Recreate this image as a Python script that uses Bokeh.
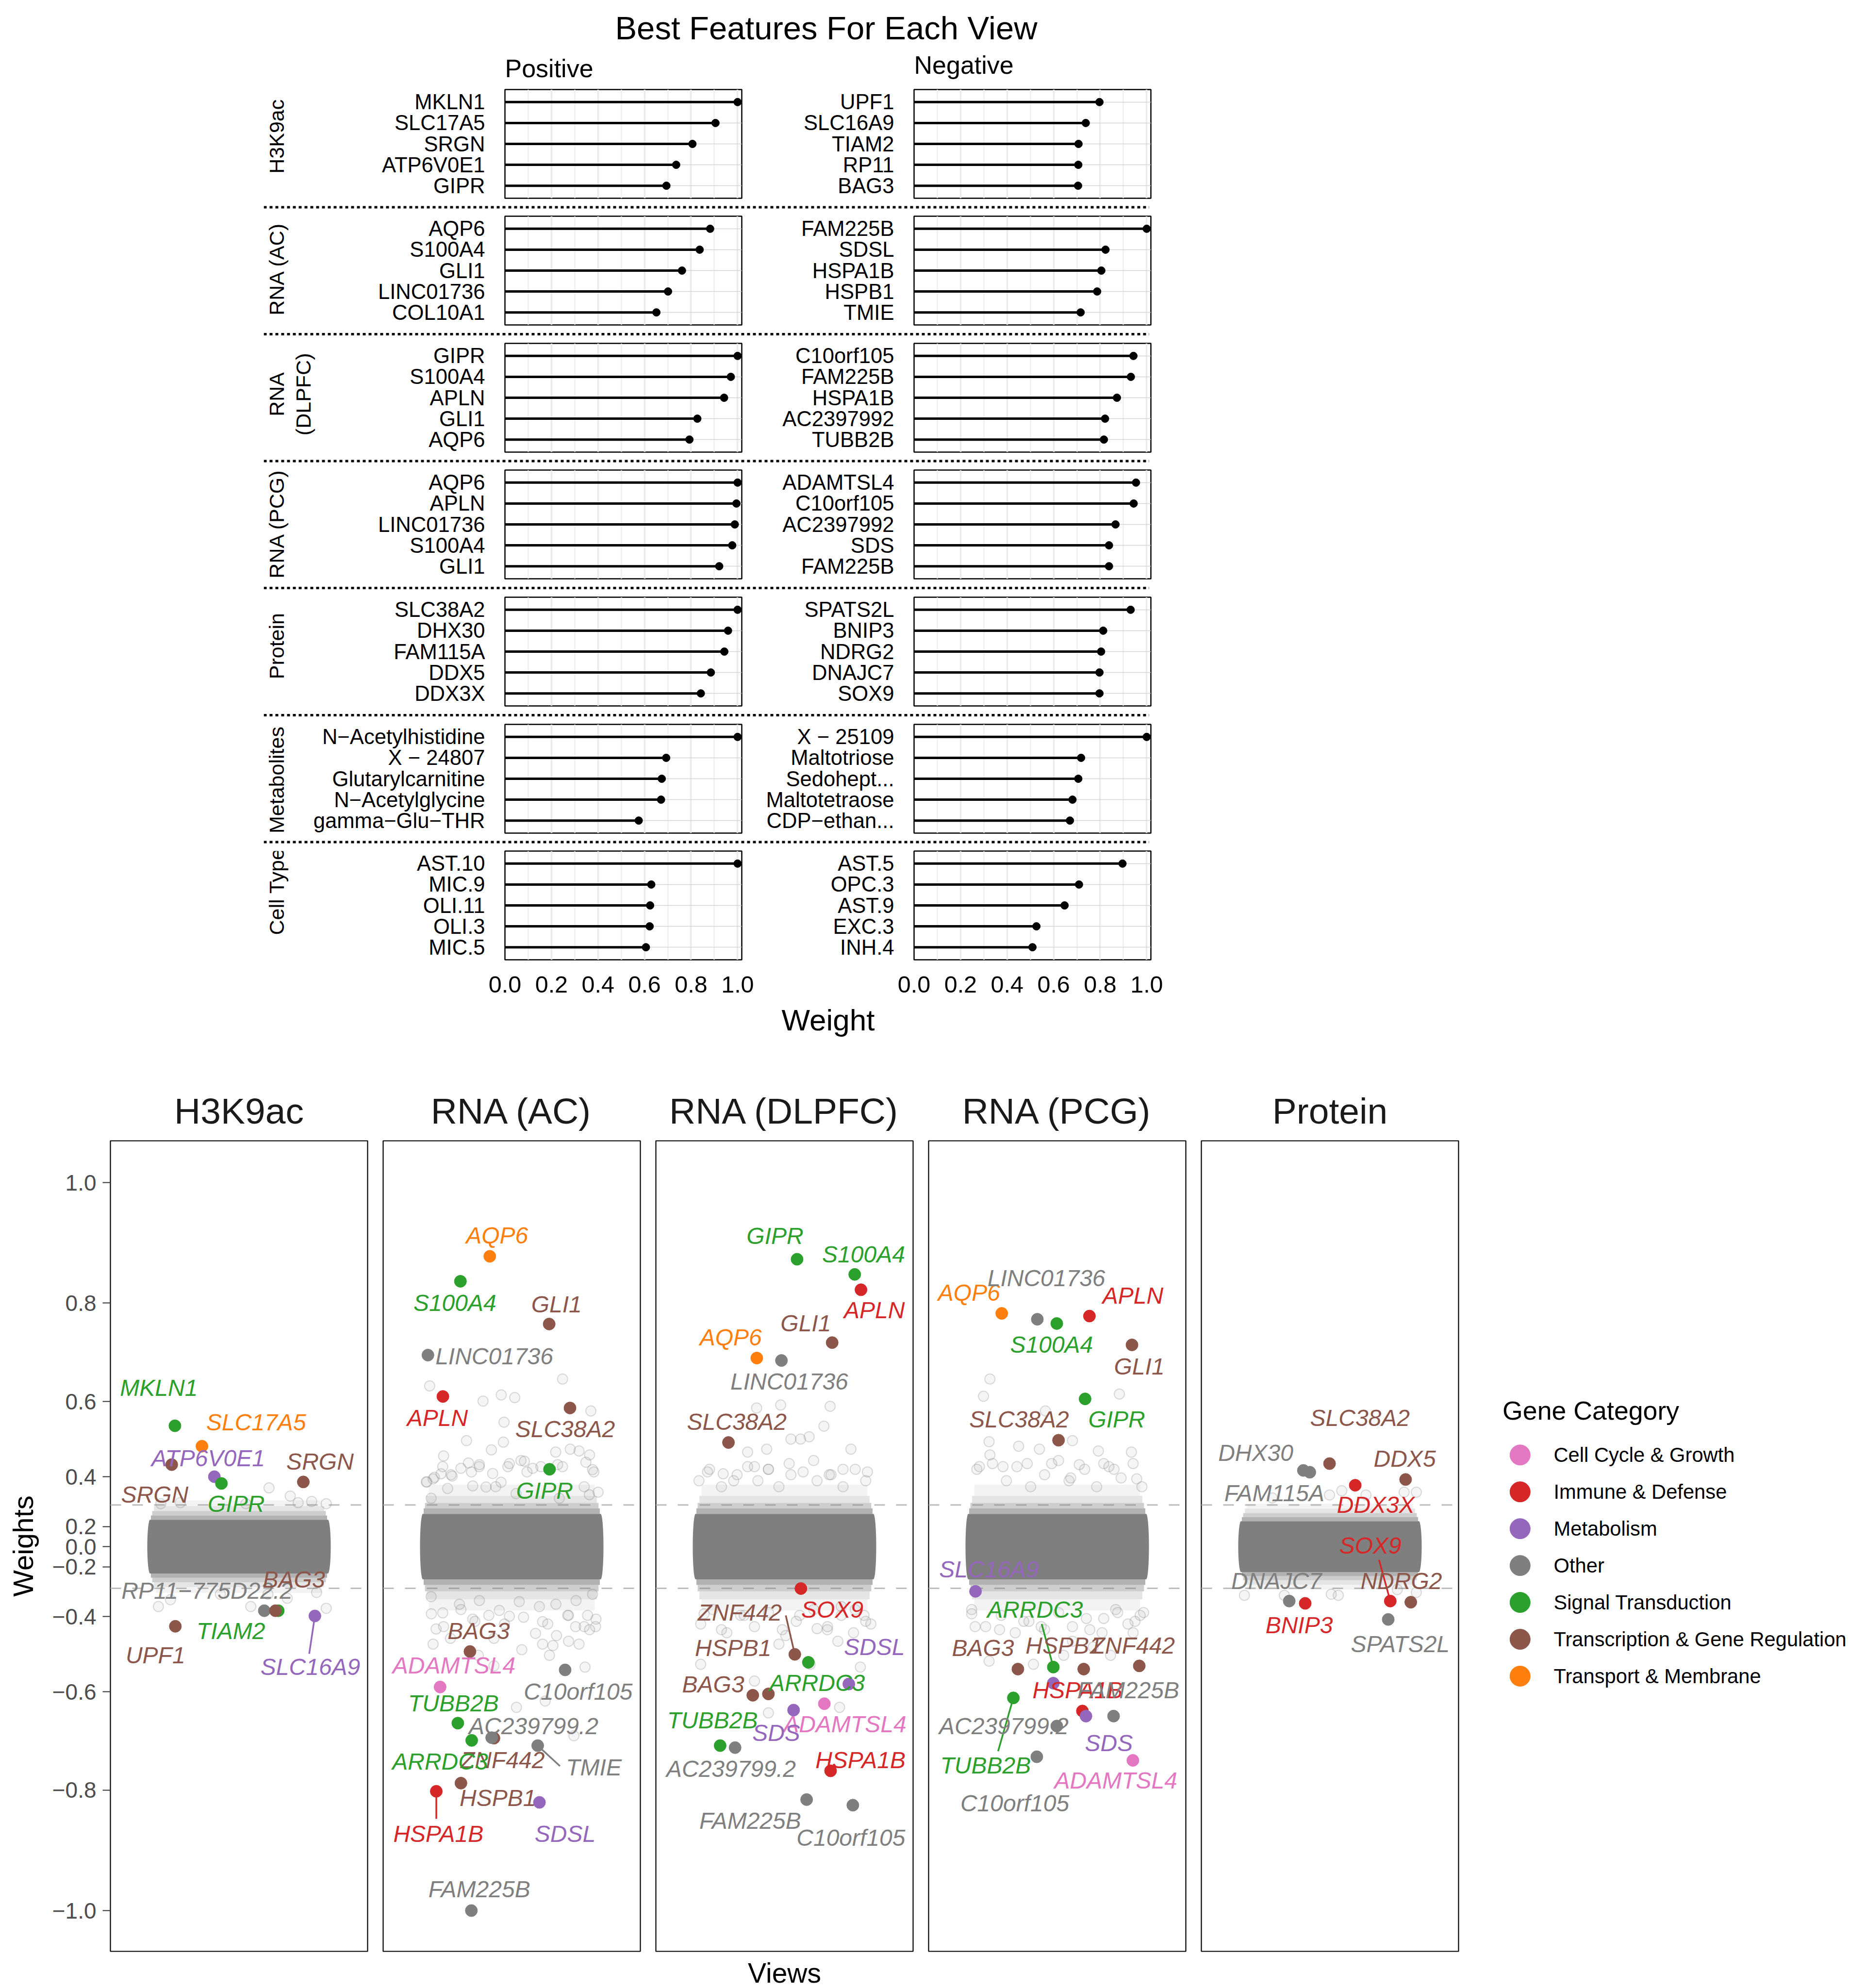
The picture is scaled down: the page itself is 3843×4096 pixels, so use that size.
import numpy as np
from bokeh.plotting import figure
from bokeh.models import Range1d, FixedTicker, Span, ColumnDataSource, Spacer, NumeralTickFormatter
from bokeh.layouts import row, column
from bokeh.embed import file_html
from bokeh.resources import INLINE
from bokeh.core.properties import value

# ------------------------------------------------------------------ data: top lollipops
VIEWS = ["H3K9ac", "RNA (AC)", "RNA (DLPFC)", "RNA (PCG)", "Protein", "Metabolites", "Cell Type"]

H3K9AC_POS = ["MKLN1", "SLC17A5", "SRGN", "ATP6V0E1", "GIPR"]
H3K9AC_POS_W = [1.0, 0.905, 0.806, 0.736, 0.694]
H3K9AC_NEG = ["UPF1", "SLC16A9", "TIAM2", "RP11", "BAG3"]
H3K9AC_NEG_W = [0.797, 0.738, 0.707, 0.706, 0.705]

RNA_AC_POS = ["AQP6", "S100A4", "GLI1", "LINC01736", "COL10A1"]
RNA_AC_POS_W = [0.882, 0.837, 0.761, 0.701, 0.651]
RNA_AC_NEG = ["FAM225B", "SDSL", "HSPA1B", "HSPB1", "TMIE"]
RNA_AC_NEG_W = [1.0, 0.823, 0.805, 0.787, 0.716]

DLPFC_POS = ["GIPR", "S100A4", "APLN", "GLI1", "AQP6"]
DLPFC_POS_W = [1.0, 0.971, 0.942, 0.827, 0.793]
DLPFC_NEG = ["C10orf105", "FAM225B", "HSPA1B", "AC2397992", "TUBB2B"]
DLPFC_NEG_W = [0.943, 0.932, 0.872, 0.821, 0.816]

PCG_POS = ["AQP6", "APLN", "LINC01736", "S100A4", "GLI1"]
PCG_POS_W = [1.0, 0.995, 0.988, 0.977, 0.921]
PCG_NEG = ["ADAMTSL4", "C10orf105", "AC2397992", "SDS", "FAM225B"]
PCG_NEG_W = [0.954, 0.944, 0.866, 0.838, 0.838]

PROTEIN_POS = ["SLC38A2", "DHX30", "FAM115A", "DDX5", "DDX3X"]
PROTEIN_POS_W = [1.0, 0.959, 0.943, 0.885, 0.842]
PROTEIN_NEG = ["SPATS2L", "BNIP3", "NDRG2", "DNAJC7", "SOX9"]
PROTEIN_NEG_W = [0.931, 0.813, 0.804, 0.797, 0.797]

MET_POS = ["N\u2212Acetylhistidine", "X \u2212 24807", "Glutarylcarnitine", "N\u2212Acetylglycine", "gamma\u2212Glu\u2212THR"]
MET_POS_W = [1.0, 0.693, 0.674, 0.671, 0.575]
MET_NEG = ["X \u2212 25109", "Maltotriose", "Sedohept...", "Maltotetraose", "CDP\u2212ethan..."]
MET_NEG_W = [1.0, 0.718, 0.706, 0.681, 0.670]

CELL_POS = ["AST.10", "MIC.9", "OLI.11", "OLI.3", "MIC.5"]
CELL_POS_W = [1.0, 0.629, 0.624, 0.622, 0.606]
CELL_NEG = ["AST.5", "OPC.3", "AST.9", "EXC.3", "INH.4"]
CELL_NEG_W = [0.896, 0.709, 0.647, 0.526, 0.509]

# ------------------------------------------------------------------ data: facet scatter
CATEGORIES = ["Cell Cycle & Growth", "Immune & Defense", "Metabolism", "Other",
              "Signal Transduction", "Transcription & Gene Regulation", "Transport & Membrane"]
CAT_COLORS = ["#E377C2", "#D62728", "#9467BD", "#7F7F7F", "#2CA02C", "#8C564B", "#FF7F0E"]
CAT_CODES = ["CC", "IM", "ME", "OT", "ST", "TR", "TM"]
FACET_VIEWS = ["H3K9ac", "RNA (AC)", "RNA (DLPFC)", "RNA (PCG)", "Protein"]

H3K9AC_GENES = ["MKLN1", "SLC17A5", "ATP6V0E1", "SRGN", "GIPR", "SRGN", "RP11\u2212775D22.2", "TIAM2", "BAG3", "UPF1", "SLC16A9"]
H3K9AC_CATS = ["ST", "TM", "ME", "TR", "ST", "TR", "OT", "ST", "TR", "TR", "ME"]
H3K9AC_X = [0.701, 0.827, 0.885, 0.686, 0.918, 1.300, 1.118, 1.183, 1.170, 0.703, 1.354]
H3K9AC_W = [0.542, 0.489, 0.400, 0.437, 0.378, 0.383, -0.381, -0.381, -0.381, -0.430, -0.398]
H3K9AC_BG_X = [1.140, 1.239, 1.339, 1.032, 0.635, 0.726, 1.276, 1.407, 0.624, 0.680, 1.055, 1.135, 1.407, 1.362, 1.225, 0.913]
H3K9AC_BG_W = [0.363, 0.334, 0.314, 0.305, 0.305, 0.309, 0.309, 0.305, -0.367, -0.343, -0.367, -0.323, -0.373, -0.316, -0.338, -0.323]

RNA_AC_GENES = ["AQP6", "S100A4", "GLI1", "LINC01736", "APLN", "SLC38A2", "GIPR", "BAG3", "ADAMTSL4", "C10orf105",
                "TUBB2B", "ZNF442", "AC239799.2", "ARRDC3", "HSPB1", "TMIE", "HSPA1B", "SDSL", "FAM225B"]
RNA_AC_CATS = ["TM", "ST", "TR", "OT", "IM", "TR", "ST", "TR", "CC", "OT", "ST", "TR", "OT", "ST", "TR", "OT", "IM", "ME", "OT"]
RNA_AC_X = [0.8975, 0.7606, 1.1746, 0.609, 0.6787, 1.2718, 1.1762, 0.805, 0.6658, 1.249, 0.7484, 0.917, 0.9064,
            0.8132, 0.763, 1.1211, 0.648, 1.1292, 0.8116]
RNA_AC_W = [0.882, 0.839, 0.761, 0.700, 0.6115, 0.585, 0.423, -0.501, -0.589, -0.548, -0.669, -0.700, -0.699,
            -0.7045, -0.787, -0.715, -0.802, -0.822, -1.0]
RNA_AC_BG_X = [0.617, 0.866, 0.951, 1.014, 1.237, 1.369, 0.964, 0.789, 0.961, 0.905, 0.848, 0.682, 1.043, 1.071, 1.205,
               1.273, 1.314, 1.363, 1.383, 0.633, 0.601, 0.722, 0.812, 0.925, 0.982, 1.136, 1.338, 1.237, 1.403, 0.670,
               0.625, 0.682, 0.763, 0.828, 0.893, 0.966, 1.055, 1.111, 1.168, 1.209, 1.265, 1.298, 1.354, 1.391, 0.633,
               0.714, 0.917, 1.047, 1.144, 1.192, 1.265, 1.314, 1.176, 1.342, 1.022, 1.156, 1.290, 0.844, 0.917, 1.363,
               0.604, 0.639, 0.678, 0.717, 0.763, 0.798, 0.849, 0.911, 0.950, 0.989, 1.059, 1.098, 1.214, 1.346, 1.377,
               1.362, 0.624, 0.701, 0.818, 0.880, 1.020, 1.222,
               0.624, 0.678, 0.756, 0.849, 0.942, 1.035, 1.129, 1.206, 1.300, 1.377, 0.647, 0.818, 0.989, 1.144, 1.261,
               1.393, 1.338]
RNA_AC_BG_W = [0.635, 0.601, 0.615, 0.609, 0.650, 0.578, 0.551, 0.504, 0.500, 0.479, 0.431, 0.462, 0.449, 0.415, 0.473,
               0.481, 0.476, 0.465, 0.415, 0.393, 0.383, 0.402, 0.415, 0.367, 0.431, 0.431, 0.367, 0.431, 0.348, 0.409,
               -0.391, -0.431, -0.377, -0.415, -0.396, -0.423, -0.402, -0.451, -0.423, -0.457, -0.396, -0.431, -0.396,
               -0.431, -0.481, -0.465, -0.465, -0.496, -0.481, -0.485, -0.473, -0.481, -0.511, -0.541, -0.635, -0.621,
               -0.695, -0.511, -0.538, -0.440,
               0.383, 0.398, 0.431, 0.406, 0.426, 0.442, 0.437, 0.410, 0.382, 0.440, 0.447, 0.426, 0.437, 0.444, 0.422,
               0.339, 0.326, 0.361, 0.370, 0.366, 0.343, 0.326,
               -0.332, -0.388, -0.359, -0.346, -0.380, -0.350, -0.367, -0.359, -0.346, -0.323, -0.438, -0.408, -0.399,
               -0.416, -0.396, -0.408, -0.431]

DLPFC_GENES = ["GIPR", "S100A4", "APLN", "GLI1", "AQP6", "LINC01736", "SLC38A2", "SOX9", "ZNF442", "BAG3", "HSPB1",
               "ARRDC3", "SDSL", "ADAMTSL4", "SDS", "TUBB2B", "AC239799.2", "HSPA1B", "FAM225B", "C10orf105"]
DLPFC_CATS = ["ST", "ST", "IM", "TR", "TM", "OT", "TR", "IM", "TR", "TR", "TR", "ST", "ME", "CC", "ME", "ST", "OT", "IM", "OT", "OT"]
DLPFC_X = [1.0587, 1.3277, 1.3569, 1.2224, 0.8708, 0.9858, 0.7387, 1.0766, 1.0482, 0.8521, 0.925, 1.1114, 1.3002,
           1.186, 1.0425, 0.6998, 0.7695, 1.2151, 1.1033, 1.3189]
DLPFC_W = [0.877, 0.851, 0.824, 0.725, 0.694, 0.689, 0.499, -0.301, -0.5085, -0.608, -0.605, -0.529, -0.582, -0.627,
           -0.641, -0.715, -0.719, -0.764, -0.817, -0.827]
DLPFC_BG_X = [0.870, 0.982, 1.213, 1.184, 1.030, 1.075, 1.115, 1.310, 0.828, 0.917, 1.273, 0.650, 0.714, 0.860, 1.022,
              1.136, 1.387, 0.763, 1.209, 0.925, 0.609, 0.860, 0.925, 0.974, 1.006, 1.200, 1.249, 1.371, 1.330, 1.265,
              1.152, 0.706, 0.812, 1.071, 1.403, 0.625, 1.120, 1.354, 1.257,
              0.601, 0.641, 0.706, 0.779, 0.828, 0.876, 0.925, 0.974, 1.030, 1.087, 1.152, 1.217, 1.273, 1.330, 1.379,
              0.609, 0.666, 0.731, 0.795, 0.860, 0.925, 0.990, 1.055, 1.136, 1.201, 1.265, 1.322, 1.379]
DLPFC_BG_W = [0.585, 0.592, 0.589, 0.541, 0.508, 0.508, 0.514, 0.481, 0.473, 0.481, 0.423, 0.423, 0.409, 0.431, 0.440,
              0.449, 0.415, 0.387, 0.406, 0.423, -0.534, -0.575, -0.647, -0.481, -0.457, -0.440, -0.473, -0.396, -0.377,
              -0.367, -0.437, -0.440, -0.396, -0.396, -0.423, -0.391, -0.534, -0.541, -0.635,
              0.387, 0.415, 0.367, 0.406, 0.431, 0.387, 0.423, 0.367, 0.406, 0.415, 0.387, 0.406, 0.367, 0.423, 0.387,
              -0.423, -0.377, -0.449, -0.396, -0.431, -0.387, -0.440, -0.415, -0.377, -0.431, -0.396, -0.449, -0.415]

PCG_GENES = ["AQP6", "LINC01736", "S100A4", "APLN", "GLI1", "GIPR", "SLC38A2", "SLC16A9", "", "ARRDC3", "BAG3",
             "HSPB1", "ZNF442", "HSPA1B", "FAM225B", "SDS", "TUBB2B", "AC239799.2", "C10orf105", "ADAMTSL4"]
PCG_CATS = ["TM", "OT", "ST", "IM", "TR", "ST", "TR", "ME", "ME", "ST", "TR", "TR", "TR", "IM", "OT", "ME", "ST", "OT", "OT", "CC"]
PCG_X = [0.7411, 0.9072, 0.998, 1.1503, 1.3488, 1.13, 1.0061, 0.6188, 0.9818, 0.9818, 0.8165, 1.1236, 1.3828, 1.1175,
         1.2629, 1.1341, 0.7954, 0.998, 0.9048, 1.3529]
PCG_W = [0.781, 0.770, 0.762, 0.776, 0.7205, 0.606, 0.505, -0.312, -0.580, -0.541, -0.546, -0.546, -0.538, -0.643,
         -0.654, -0.654, -0.614, -0.675, -0.737, -0.744]
PCG_BG_X = [0.686, 0.656, 1.290, 0.945, 0.682, 0.820, 0.917, 1.071, 1.192, 0.686, 1.346, 1.371, 0.637, 1.103, 1.265,
            0.747, 0.860, 0.974, 1.217, 1.055, 0.601, 0.617, 0.731, 0.844, 0.925, 1.071, 1.152, 1.217, 1.282, 1.363,
            1.403, 0.682, 0.889, 1.030, 1.168, 1.354, 1.249,
            0.625, 0.698, 0.763, 0.812, 0.876, 0.941, 1.006, 1.063, 1.128, 1.184, 1.241, 1.298, 1.354, 1.395,
            0.601, 0.666, 0.739, 0.804, 0.868, 0.941, 1.006, 1.071, 1.136, 1.209, 1.273, 1.330, 1.387]
PCG_BG_W = [0.650, 0.612, 0.617, 0.578, 0.501, 0.489, 0.481, 0.504, 0.476, 0.465, 0.473, 0.393, 0.431, 0.437, 0.423,
            0.431, 0.440, 0.440, 0.440, 0.387, -0.391, -0.431, -0.440, -0.415, -0.431, -0.473, -0.440, -0.406, -0.387,
            -0.415, -0.387, -0.526, -0.534, -0.511, -0.489, -0.449, -0.511,
            0.423, 0.440, 0.387, 0.431, 0.367, 0.406, 0.449, 0.396, 0.423, 0.367, 0.431, 0.396, 0.440, 0.367,
            -0.377, -0.431, -0.396, -0.449, -0.415, -0.440, -0.387, -0.431, -0.406, -0.449, -0.377, -0.423, -0.396]

PROTEIN_GENES = ["SLC38A2", "DHX30", "FAM115A", "DDX5", "DDX3X", "SOX9", "NDRG2", "DNAJC7", "BNIP3", "SPATS2L"]
PROTEIN_CATS = ["TR", "OT", "OT", "TR", "IM", "IM", "TR", "OT", "IM", "OT"]
PROTEIN_X = [0.998, 0.876, 0.906, 1.3529, 1.1179, 1.2815, 1.3772, 0.81, 0.8845, 1.2718]
PROTEIN_W = [0.440, 0.4195, 0.414, 0.391, 0.372, -0.348, -0.352, -0.348, -0.356, -0.409]
PROTEIN_BG_X = [1.055, 1.168, 1.403, 0.998, 0.731, 1.346, 0.601, 0.787, 1.006, 1.039, 1.314, 1.403]
PROTEIN_BG_W = [0.353, 0.338, 0.348, 0.338, 0.327, 0.348, -0.327, -0.327, -0.323, -0.327, -0.305, -0.316]

# dense cloud of unlabeled features, summarised by weight levels:
# core half-height, then density levels above (+) and below (-) the core
H3K9AC_CORE = 0.235
H3K9AC_UP = [0.255, 0.275, 0.295, 0.318]
H3K9AC_DN = [0.255, 0.275, 0.295, 0.318]
RNA_AC_CORE = 0.262
RNA_AC_UP = [0.286, 0.308, 0.335, 0.374]
RNA_AC_DN = [0.286, 0.312, 0.342, 0.380]
DLPFC_CORE = 0.262
DLPFC_UP = [0.286, 0.308, 0.335, 0.374]
DLPFC_DN = [0.286, 0.312, 0.342, 0.380]
PCG_CORE = 0.262
PCG_UP = [0.286, 0.308, 0.335, 0.374]
PCG_DN = [0.286, 0.312, 0.342, 0.380]
PROTEIN_CORE = 0.228
PROTEIN_UP = [0.248, 0.266, 0.285, 0.305]
PROTEIN_DN = [0.248, 0.266, 0.285, 0.305]

THRESHOLD = 0.3
YTICK_VALUES = [1.0, 0.8, 0.6, 0.4, 0.2, 0.0, -0.2, -0.4, -0.6, -0.8, -1.0]
YTICK_LABELS = ["1.0", "0.8", "0.6", "0.4", "0.2", "0.0", "\u22120.2", "\u22120.4", "\u22120.6", "\u22120.8", "\u22121.0"]

# ------------------------------------------------------------------ layout (label placement, not data)
H3K9AC_LBL = [(0.626, 0.436), (1.080, 0.342), (0.856, 0.2425), (0.607, 0.143), (0.987, 0.118), (1.378, 0.233),
              (0.851, -0.121), (0.962, -0.2315), (1.256, -0.090), (0.610, -0.298), (1.333, -0.331)]
H3K9AC_SEG = [(10, 1.3275, -0.2945)]
RNA_AC_LBL = [(0.9315, 0.855), (0.7346, 0.669), (1.2087, 0.666), (0.9186, 0.523), (0.6536, 0.354), (1.249, 0.323),
              (1.1535, 0.154), (0.8456, -0.2315), (0.7306, -0.326), (1.31, -0.398), (0.728, -0.430), (0.9575, -0.587),
              (1.1017, -0.493), (0.6658, -0.5906), (0.9348, -0.690), (1.3828, -0.606), (0.6577, -0.789),
              (1.249, -0.789), (0.8489, -0.9417)]
RNA_AC_SEG = [(15, 1.2249, -0.603), (16, 0.648, -0.748)]
DLPFC_LBL = [(0.9558, 0.8535), (1.369, 0.803), (1.4193, 0.649), (1.0993, 0.614), (0.7492, 0.575), (1.0223, 0.4535),
             (0.7776, 0.343), (1.2232, -0.173), (0.7914, -0.181), (0.6674, -0.378), (0.7606, -0.279), (1.1519, -0.375),
             (1.4193, -0.276), (1.2816, -0.488), (0.9615, -0.512), (0.6641, -0.477), (0.7508, -0.611),
             (1.3545, -0.586), (0.84, -0.753), (1.3099, -0.80)]
DLPFC_SEG = [(8, 1.006, -0.189)]
PCG_LBL = [(0.5888, 0.6976), (0.9494, 0.737), (0.9737, 0.5543), (1.3529, 0.6898), (1.3828, 0.4945), (1.2775, 0.3496),
           (0.8221, 0.3496), (0.682, -0.063), None, (0.8967, -0.173), (0.6536, -0.279), (1.0304, -0.272),
           (1.3529, -0.272), (1.0952, -0.395), (1.3318, -0.395), (1.241, -0.540), (0.6658, -0.6016),
           (0.7508, -0.493), (0.8019, -0.7055), (1.2735, -0.6425)]
PCG_SEG = [(9, 0.9275, -0.2126), (16, 0.7241, -0.5622)]
PROTEIN_LBL = [(1.1398, 0.354), (0.6536, 0.257), (0.7403, 0.1465), (1.3488, 0.241), (1.2135, 0.115), (1.1884, 0.003),
               (1.3326, -0.0945), (0.7508, -0.0945), (0.8562, -0.2157), (1.3277, -0.2677)]
PROTEIN_SEG = [(5, 1.2289, -0.0362)]

FONT = "Liberation Sans"
TOTAL_W = 3843
GRAY = "#7F7F7F"
COLOR_OF = dict(zip(CAT_CODES, CAT_COLORS))
FRINGE_ALPHA = [0.6, 0.38, 0.2, 0.09]
FRINGE_XPAD = [0.004, 0.01, 0.018, 0.028]


def T(w):
    """axis transform of the weights panel (signed power scale)"""
    return float(np.sign(w) * abs(w) ** 1.8)


def blank(width, height):
    p = figure(width=width, height=height, toolbar_location=None, output_backend="svg",
               x_range=Range1d(0, width), y_range=Range1d(height, 0),
               x_axis_location=None, y_axis_location=None,
               min_border_left=0, min_border_right=0, min_border_top=0, min_border_bottom=0)
    p.outline_line_color = None
    p.grid.visible = False
    return p


def add_text(p, x, y, txt, size, align="left", angle=0.0, color="#000000", style="normal"):
    p.text(x=[x], y=[y], text=[txt], angle=angle, text_font=value(FONT), text_font_size=f"{size}px",
           text_align=align, text_baseline="middle", text_color=color, text_font_style=style)


def lollipop(names, weights, left, right, height, bottom, show_x):
    n = len(names)
    ys = [float(n - k) for k in range(n)]
    p = figure(width=left + 488 + right, height=height, toolbar_location=None, output_backend="svg",
               x_range=Range1d(0, 1.018), y_range=Range1d(0.4, n + 0.6),
               x_axis_location="below" if show_x else None,
               min_border_left=left, min_border_right=right, min_border_top=10, min_border_bottom=bottom)
    p.outline_line_color = "black"
    p.outline_line_width = 2.5
    p.background_fill_color = "white"
    p.xgrid.ticker = FixedTicker(ticks=[0.0, 0.2, 0.4, 0.6, 0.8, 1.0], minor_ticks=[0.1, 0.3, 0.5, 0.7, 0.9])
    p.xgrid.grid_line_color = "#EBEBEB"
    p.xgrid.grid_line_width = 3.5
    p.xgrid.minor_grid_line_color = "#EFEFEF"
    p.xgrid.minor_grid_line_width = 2.5
    p.ygrid.ticker = FixedTicker(ticks=ys)
    p.ygrid.grid_line_color = "#D4D4D4"
    p.ygrid.grid_line_width = 1.5
    src = ColumnDataSource(dict(y=ys, w=weights, zero=[0.0] * n))
    p.segment(x0="zero", y0="y", x1="w", y1="y", source=src, line_color="black", line_width=5)
    p.scatter(x="w", y="y", source=src, size=16, color="black")
    ya = p.yaxis[0]
    ya.ticker = FixedTicker(ticks=ys)
    ya.major_label_overrides = dict(zip(ys, names))
    ya.axis_line_color = None
    ya.major_tick_line_color = None
    ya.minor_tick_line_color = None
    ya.major_label_standoff = 35
    ya.major_label_text_font = FONT
    ya.major_label_text_font_size = "43.6px"
    ya.major_label_text_color = "black"
    if show_x:
        xa = p.xaxis[0]
        xa.ticker = FixedTicker(ticks=[0.0, 0.2, 0.4, 0.6, 0.8, 1.0])
        xa.formatter = NumeralTickFormatter(format="0.0")
        xa.axis_line_color = None
        xa.major_tick_line_color = None
        xa.minor_tick_line_color = None
        xa.major_label_standoff = 28
        xa.major_label_text_font = FONT
        xa.major_label_text_font_size = "48.5px"
        xa.major_label_text_color = "black"
    return p


def facet(i, genes, cats, xs, ws, lbls, segs, bgx, bgw, core, up, dn):
    left = 227 if i == 0 else 30
    p = figure(width=left + 532, height=1678, toolbar_location=None, output_backend="svg",
               x_range=Range1d(0.4, 1.6), y_range=Range1d(-1.112, 1.115),
               x_axis_location=None, y_axis_location="left" if i == 0 else None,
               min_border_left=left, min_border_right=2, min_border_top=4, min_border_bottom=4)
    p.outline_line_color = "black"
    p.outline_line_width = 2.2
    p.background_fill_color = "white"
    p.grid.visible = False
    for thr in (THRESHOLD, -THRESHOLD):
        p.add_layout(Span(location=T(thr), dimension="width", line_color="#BDBDBD", line_width=3,
                          line_dash="22 23", level="underlay"))
    # density fringe of the unlabeled cloud (non-overlapping layers)
    prev_u, prev_d = core, core
    for k in range(len(up)):
        pad = FRINGE_XPAD[k]
        p.quad(left=[0.585 + pad, 0.585 + pad], right=[1.415 - pad, 1.415 - pad],
               bottom=[T(prev_u), T(-dn[k])], top=[T(up[k]), T(-prev_d)],
               fill_color=GRAY, fill_alpha=FRINGE_ALPHA[k], line_color=None)
        prev_u, prev_d = up[k], dn[k]
    p.quad(left=[0.585], right=[1.415], bottom=[T(-core)], top=[T(core)], fill_color=GRAY, fill_alpha=1.0, line_color=None)
    p.ellipse(x=[0.585, 1.415], y=[0.0, 0.0], width=0.026, height=2 * T(core), fill_color=GRAY, line_color=None)
    p.scatter(x=bgx, y=[T(w) for w in bgw], size=21, fill_color=GRAY, fill_alpha=0.08,
              line_color=GRAY, line_alpha=0.28, line_width=2)
    cols = [COLOR_OF[c] for c in cats]
    for (k, xe, te) in segs:
        p.segment(x0=[xs[k]], y0=[T(ws[k])], x1=[xe], y1=[te], line_color=cols[k], line_width=3.5)
    p.scatter(x=xs, y=[T(w) for w in ws], size=25, fill_color=cols, line_color=cols)
    keep = [k for k in range(len(genes)) if lbls[k] is not None]
    p.text(x=[lbls[k][0] for k in keep], y=[lbls[k][1] for k in keep], text=[genes[k] for k in keep],
           text_color=[cols[k] for k in keep], text_font=value(FONT), text_font_style="italic",
           text_font_size="48px", text_align="center", text_baseline="middle")
    if i == 0:
        ya = p.yaxis[0]
        ticks = [round(T(v), 6) for v in YTICK_VALUES]
        ya.ticker = FixedTicker(ticks=ticks)
        ya.major_label_overrides = dict(zip(ticks, YTICK_LABELS))
        ya.axis_line_color = None
        ya.minor_tick_line_color = None
        ya.major_tick_line_color = "#333333"
        ya.major_tick_line_width = 2
        ya.major_tick_out = 16
        ya.major_tick_in = 0
        ya.major_label_standoff = 13
        ya.major_label_text_font = FONT
        ya.major_label_text_font_size = "46px"
        ya.major_label_text_color = "#4D4D4D"
        ya.axis_label = "Weights"
        ya.axis_label_text_font = FONT
        ya.axis_label_text_font_size = "58px"
        ya.axis_label_text_font_style = "normal"
        ya.axis_label_text_color = "black"
        ya.axis_label_standoff = 25
    return p


# ------------------------------------------------------------------ top section
TOP_DATA = [
    (H3K9AC_POS, H3K9AC_POS_W, H3K9AC_NEG, H3K9AC_NEG_W),
    (RNA_AC_POS, RNA_AC_POS_W, RNA_AC_NEG, RNA_AC_NEG_W),
    (DLPFC_POS, DLPFC_POS_W, DLPFC_NEG, DLPFC_NEG_W),
    (PCG_POS, PCG_POS_W, PCG_NEG, PCG_NEG_W),
    (PROTEIN_POS, PROTEIN_POS_W, PROTEIN_NEG, PROTEIN_NEG_W),
    (MET_POS, MET_POS_W, MET_NEG, MET_NEG_W),
    (CELL_POS, CELL_POS_W, CELL_NEG, CELL_NEG_W),
]
ROW_LABEL_LINES = [["H3K9ac"], ["RNA (AC)"], ["RNA", "(DLPFC)"], ["RNA (PCG)"], ["Protein"], ["Metabolites"], ["Cell Type"]]
ROW_LABEL_X = [569.6, 624.6]
ROW_LABEL_Y = [279.4, 553.4, 811.2, 1078.8, 1329.6, 1606.8, 1861.8]
row_tops = [int(round(183.7 + 261.6 * k - 10)) for k in range(7)]
LAST_ROW_BOTTOM = 2062
FRAME_LEFT = 1040

children = []
header = blank(TOTAL_W, row_tops[0])
add_text(header, 1702, 57.3, "Best Features For Each View", 67, align="center")
add_text(header, 1040, 140.9, "Positive", 52)
add_text(header, 1883, 133.9, "Negative", 52)
children.append(header)

for i, view in enumerate(VIEWS):
    h = 244 if i < 6 else LAST_ROW_BOTTOM - row_tops[6]
    bottom = h - 10 - 224
    lab_w = 655 if len(ROW_LABEL_LINES[i]) > 1 else 615
    lab = blank(lab_w, h)
    for k, line in enumerate(ROW_LABEL_LINES[i]):
        add_text(lab, ROW_LABEL_X[k], ROW_LABEL_Y[i] - row_tops[i], line, 43, align="center", angle=np.pi / 2)
    pn, pw, nn, nw = TOP_DATA[i]
    pf = lollipop(pn, pw, FRAME_LEFT - lab_w, 40, h, bottom, i == 6)
    nf = lollipop(nn, nw, 315, 40, h, bottom, i == 6)
    used = lab_w + (FRAME_LEFT - lab_w + 528) + 843
    children.append(row(lab, pf, nf, Spacer(width=TOTAL_W - used, height=h)))
    if i < 6:
        sh = row_tops[i + 1] - (row_tops[i] + 244)
        sep = blank(1825, sh)
        sep.add_layout(Span(location=sh / 2.0, dimension="width", line_color="black", line_width=5, line_dash="6 6"))
        children.append(row(Spacer(width=543, height=sh), sep, Spacer(width=TOTAL_W - 543 - 1825, height=sh)))

weight_band = blank(TOTAL_W, 2160 - LAST_ROW_BOTTOM)
add_text(weight_band, 1706, 2101 - LAST_ROW_BOTTOM, "Weight", 62, align="center")
children.append(weight_band)

# ------------------------------------------------------------------ bottom section
strip = blank(TOTAL_W, 186)
for k, v in enumerate(FACET_VIEWS):
    add_text(strip, 492 + 562 * k, 128.7, v, 75, align="center", color="#1A1A1A")
children.append(strip)

FACETS = [
    (H3K9AC_GENES, H3K9AC_CATS, H3K9AC_X, H3K9AC_W, H3K9AC_LBL, H3K9AC_SEG, H3K9AC_BG_X, H3K9AC_BG_W,
     H3K9AC_CORE, H3K9AC_UP, H3K9AC_DN),
    (RNA_AC_GENES, RNA_AC_CATS, RNA_AC_X, RNA_AC_W, RNA_AC_LBL, RNA_AC_SEG, RNA_AC_BG_X, RNA_AC_BG_W,
     RNA_AC_CORE, RNA_AC_UP, RNA_AC_DN),
    (DLPFC_GENES, DLPFC_CATS, DLPFC_X, DLPFC_W, DLPFC_LBL, DLPFC_SEG, DLPFC_BG_X, DLPFC_BG_W,
     DLPFC_CORE, DLPFC_UP, DLPFC_DN),
    (PCG_GENES, PCG_CATS, PCG_X, PCG_W, PCG_LBL, PCG_SEG, PCG_BG_X, PCG_BG_W, PCG_CORE, PCG_UP, PCG_DN),
    (PROTEIN_GENES, PROTEIN_CATS, PROTEIN_X, PROTEIN_W, PROTEIN_LBL, PROTEIN_SEG, PROTEIN_BG_X, PROTEIN_BG_W,
     PROTEIN_CORE, PROTEIN_UP, PROTEIN_DN),
]
facet_figs = [facet(k, *args) for k, args in enumerate(FACETS)]

legend_w = TOTAL_W - (759 + 562 * 4)
leg = blank(legend_w, 1678)
add_text(leg, 88.6, 558, "Gene Category", 53.7)
leg_y = [650.4 + 76.3 * k for k in range(len(CATEGORIES))]
leg.scatter(x=[124.8] * len(CATEGORIES), y=leg_y, size=42, fill_color=CAT_COLORS, line_color=CAT_COLORS)
leg.text(x=[194] * len(CATEGORIES), y=leg_y, text=CATEGORIES, text_font=value(FONT),
         text_font_size="41.7px", text_align="left", text_baseline="middle", text_color="black")
children.append(row(*facet_figs, leg))

views_band = blank(TOTAL_W, 72)
add_text(views_band, 1616, 40, "Views", 57, align="center")
children.append(views_band)

layout = column(*children)
open("out.html", "w").write(file_html(layout, INLINE))
